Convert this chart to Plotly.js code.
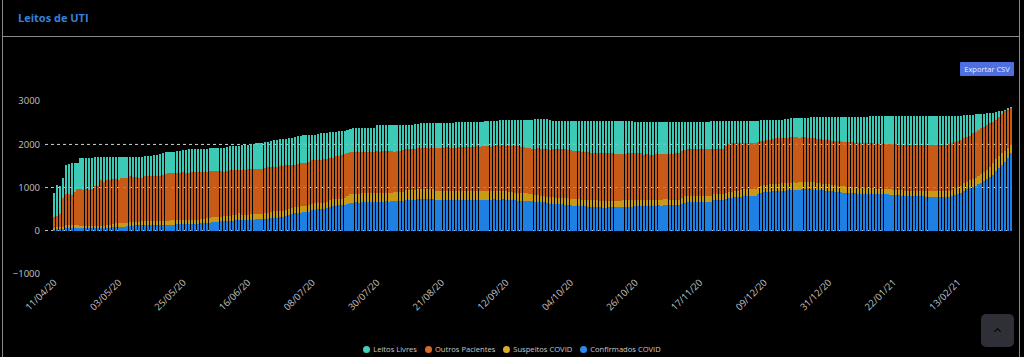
<!DOCTYPE html>
<html>
<head>
<meta charset="utf-8">
<script src="https://cdn.plot.ly/plotly-3.0.1.min.js"></script>
<style>
  html, body { margin:0; padding:0; background:#000; width:1024px; height:357px; overflow:hidden; font-family:"Open Sans", "Noto Sans", sans-serif; }
  #chart { position:absolute; left:0; top:0; width:1024px; height:357px; }
  .frame-l { position:absolute; left:2px; top:0; width:1px; height:357px; background:#8a8a8a; }
  .frame-r { position:absolute; left:1019px; top:0; width:1px; height:357px; background:#8a8a8a; }
  .frame-h { position:absolute; left:2px; top:36px; width:1018px; height:1px; background:#8a8a8a; }
  #csv { position:absolute; left:960px; top:62px; width:54px; height:14px; background:#4e6fdf; color:#e8ecff; font-size:7.5px; line-height:14px; text-align:center; border-radius:1px; }
  #up { position:absolute; left:981px; top:314px; width:33px; height:33px; background:#2f3037; border-radius:5px; }
  #up:after { content:""; position:absolute; left:14px; top:15px; width:4px; height:4px; border-left:1.5px solid #000; border-top:1.5px solid #000; transform:rotate(45deg); }
  #legend { position:absolute; left:0; width:1024px; top:343px; height:12px; text-align:center; font-size:7.6px; color:#c8c8c8; white-space:nowrap; }
  #legend span.item { display:inline-block; margin:0 4px; line-height:12px; }
  #legend span.dot { display:inline-block; width:7px; height:7px; border-radius:50%; margin-right:3px; vertical-align:-1px; }
</style>
</head>
<body>
<div id="chart"></div>
<div class="frame-l"></div>
<div class="frame-r"></div>
<div class="frame-h"></div>
<div id="csv">Exportar CSV</div>
<div id="up"></div>
<div id="legend"></div>
<script>
// ---- data (daily, starting 11/04/2020) ----
const startDate = '2020-04-11';
const seriesNames = ['Confirmados COVID', 'Suspeitos COVID', 'Outros Pacientes', 'Leitos Livres'];
const seriesColors = ['#1f80e3', '#c99a16', '#c85a18', '#3cc9b6'];
const legendOrder = ['Leitos Livres', 'Outros Pacientes', 'Suspeitos COVID', 'Confirmados COVID'];
const legendColors = ['#3fd0c0', '#d9692a', '#e0a92a', '#2a8af0'];

const confirmados = [
25,30,30,35,70,75,70,68,65,62,
62,60,63,60,58,60,62,65,64,66,
85,88,90,92,95,100,118,120,122,125,
125,128,130,130,132,128,130,133,130,135,
138,140,145,150,152,150,155,152,155,160,
170,175,185,190,192,195,200,215,225,230,
232,235,238,240,245,250,255,258,260,262,
265,268,272,280,290,300,305,310,318,330,
360,385,405,415,420,425,430,440,480,490,
495,498,500,520,560,574,580,585,590,600,
620,640,650,655,650,660,662,665,670,673,
673,675,672,678,675,680,685,688,690,692,
715,719,722,720,725,727,730,727,725,730,
710,704,700,705,708,704,702,710,715,718,
715,716,717,720,718,717,716,715,720,722,
725,718,722,730,715,712,705,700,695,690,
688,690,685,680,673,670,665,660,640,625,
620,615,612,610,605,600,590,580,575,574,
570,565,560,550,545,540,538,536,535,538,
540,542,548,550,552,550,548,555,565,574,
578,580,575,578,580,582,585,580,585,588,
590,589,592,590,620,650,660,666,668,666,
666,668,670,672,675,700,704,708,712,740,
760,765,770,780,790,800,803,805,805,808,
850,880,900,903,905,910,915,918,920,930,
935,941,945,940,950,956,960,955,958,952,
945,940,933,930,925,910,900,890,885,880,
878,875,870,865,860,858,857,855,855,850,
848,845,842,840,842,838,830,826,820,815,
810,805,800,800,798,795,795,792,790,790,
790,788,790,788,787,790,800,830,860,880,
930,960,990,1020,1045,1071,1110,1150,1186,1240,
1300,1390,1460,1530,1600,1683,1790];

const suspeitos = [
50,50,50,50,60,60,65,62,60,58,
55,56,54,55,57,55,56,55,58,57,
80,82,85,84,86,85,85,86,84,85,
100,100,98,102,100,100,99,101,100,102,
100,102,105,100,102,103,100,101,102,100,
105,108,110,112,115,130,112,110,115,118,
115,118,120,160,118,115,117,120,122,120,
122,125,128,135,145,150,150,152,150,148,
148,145,145,142,145,146,148,150,150,150,
150,152,150,150,150,152,150,150,150,160,
190,200,205,205,210,210,205,200,200,195,
195,198,200,197,200,202,205,200,198,203,
220,222,225,228,230,228,230,228,232,228,
215,214,218,212,216,214,215,208,205,210,
200,202,205,198,200,205,200,203,198,200,
195,198,200,190,200,185,185,180,182,180,
180,175,170,160,150,148,150,145,150,148,
150,152,150,155,153,152,150,150,152,155,
152,150,155,155,158,160,158,160,162,158,
150,148,145,146,148,150,152,148,145,144,
140,138,140,137,138,135,135,140,138,135,
130,132,128,130,140,145,140,138,137,140,
138,140,137,140,140,140,138,140,135,140,
140,142,145,150,152,155,153,150,152,150,
160,165,160,165,170,172,168,170,175,172,
170,168,172,175,178,176,172,178,175,180,
160,155,153,155,150,150,148,145,150,148,
145,140,140,138,135,137,138,135,135,140,
120,118,115,118,116,118,120,118,120,118,
120,122,120,125,122,123,125,123,125,125,
125,128,130,130,128,130,135,150,155,155,
170,175,180,185,185,190,195,205,229,240,
260,270,280,270,250,220,200];

const outros = [
245,264,318,680,712,707,691,773,831,836,
816,855,824,841,918,910,1045,1012,1056,1047,
1025,1030,1010,1034,1043,1045,1052,1034,1029,1015,
1005,1034,1034,1023,1030,1042,1026,1051,1086,1093,
1101,1103,1080,1085,1096,1087,1090,1101,1103,1090,
1080,1082,1075,1083,1073,1065,1073,1050,1030,1032,
1053,1042,1047,1000,1045,1045,1053,1060,1053,1048,
1043,1042,1040,1055,1041,1030,1030,1028,1032,1037,
1007,990,980,988,995,997,992,1010,999,995,
995,995,1000,990,965,957,990,1002,1020,1015,
990,981,960,965,970,951,958,953,950,953,
968,957,968,961,970,954,940,963,967,965,
945,949,948,952,957,965,945,957,958,952,
987,987,997,993,1006,994,993,1002,1008,997,
1015,1017,1006,1022,1033,1026,1039,1032,1042,1023,
1035,1058,1043,1060,1055,1058,1075,1070,1074,1075,
1062,1055,1055,1057,1077,1087,1080,1085,1090,1097,
1120,1113,1123,1125,1122,1123,1120,1115,1109,1111,
1108,1110,1095,1095,1092,1098,1109,1094,1101,1104,
1100,1092,1082,1084,1085,1082,1090,1092,1088,1082,
1072,1042,1050,1045,1040,1048,1050,1055,1057,1047,
1055,1059,1070,1080,1080,1075,1080,1081,1085,1082,
1086,1077,1085,1076,1075,1052,1053,1042,1041,1070,
1100,1120,1115,1097,1093,1072,1069,1075,1078,1082,
1050,1030,1021,1022,1025,1038,1052,1054,1050,1048,
1050,1048,1043,1042,1022,1028,1025,1022,1017,1008,
1015,1015,1018,1015,1020,1025,1027,1035,1031,1032,
1037,1040,1035,1037,1035,1032,1035,1035,1037,1030,
1047,1049,1053,1054,1050,1049,1050,1051,1050,1059,
1059,1058,1060,1050,1054,1060,1055,1057,1059,1060,
1060,1062,1060,1067,1075,1080,1092,1080,1065,1065,
1042,1044,1030,1045,1064,1069,1066,1055,1035,1000,
963,910,898,900,910,888,840];

const livres = [
545,712,635,444,673,696,734,657,604,734,
757,719,749,734,665,680,549,580,534,542,
524,514,529,504,490,484,459,474,479,489,
484,467,467,474,498,490,510,513,504,490,
481,485,521,520,515,534,535,536,530,540,
535,530,530,527,532,522,527,540,545,550,
551,563,561,570,567,571,565,566,575,588,
597,600,603,590,605,610,615,621,620,612,
625,635,635,635,635,635,635,610,590,590,
595,604,605,605,600,597,568,558,545,535,
535,535,550,545,542,551,550,560,559,564,
604,610,602,604,595,605,610,592,590,585,
568,558,560,570,567,560,575,570,570,576,
574,581,572,578,560,583,590,585,581,585,
582,580,590,580,574,577,570,578,570,585,
580,566,585,575,585,601,591,608,605,613,
630,642,655,673,675,675,691,696,706,680,
657,667,662,657,667,672,687,702,711,707,
717,722,737,747,752,749,742,757,749,747,
757,765,772,767,760,758,745,735,727,725,
735,765,760,765,767,760,755,750,745,755,
750,745,735,725,685,655,645,640,635,637,
635,640,633,637,638,638,635,640,642,580,
530,505,505,513,505,513,515,510,510,505,
488,475,471,465,460,443,428,423,425,430,
435,444,445,453,465,456,459,463,470,485,
510,522,528,532,537,547,560,565,569,575,
575,582,594,599,609,612,610,615,615,625,
630,635,637,635,640,645,652,660,665,663,
666,670,675,680,681,678,681,686,686,687,
687,684,682,677,672,662,635,602,582,562,
536,501,482,435,396,365,329,300,265,240,
206,175,122,75,40,39,23];

const yTicks = [-1000, 0, 1000, 2000, 3000];

// ---- dates: one bar per day ----
const dates = [];
const d0 = new Date(startDate + 'T00:00:00Z');
for (let i = 0; i < confirmados.length; i++) {
  const d = new Date(d0.getTime() + i * 86400000);
  dates.push(d.toISOString().slice(0, 10));
}

const values = [confirmados, suspeitos, outros, livres];
const traces = values.map((v, k) => ({
  type: 'bar', x: dates, y: v, name: seriesNames[k],
  marker: { color: seriesColors[k], line: { width: 0 } },
  showlegend: false, hoverinfo: 'x+y+name'
}));

const tickFont = { family: 'Open Sans, Noto Sans, sans-serif', size: 9.5, color: '#c2c2c2' };

const layout = {
  width: 1024, height: 357,
  paper_bgcolor: '#000', plot_bgcolor: '#000',
  margin: { l: 45, r: 12, t: 101, b: 82.5 },
  barmode: 'stack', bargap: 0.28,
  title: { text: '<b>Leitos de UTI</b>', xref: 'container', x: 18/1024, xanchor: 'left',
           yref: 'container', y: 1 - 18/357, yanchor: 'middle',
           font: { family: 'Open Sans, Noto Sans, sans-serif', size: 11, color: '#3580dd' } },
  xaxis: {
    type: 'date', range: ['2020-04-07 22:00', '2021-03-03 10:00'],
    tick0: startDate, dtick: 22 * 86400000, tickformat: '%d/%m/%y',
    tickangle: -45, showgrid: false, zeroline: false, showline: false, ticks: '',
    tickfont: tickFont, fixedrange: true
  },
  yaxis: {
    range: [-1000, 3000], tickvals: yTicks, ticks: '',
    showgrid: true, gridcolor: '#bdbdbd', griddash: 'dot', gridwidth: 1,
    zeroline: false, showline: false, tickfont: tickFont, ticklabelstandoff: 4, fixedrange: true
  },
  shapes: [1000, 2000].map(v => ({
    type: 'line', xref: 'paper', x0: 0, x1: 1, yref: 'y', y0: v, y1: v, layer: 'above',
    line: { color: 'rgba(220,220,220,0.28)', width: 1, dash: 'dot' }
  })),
  showlegend: false
};

Plotly.newPlot('chart', traces, layout, { displayModeBar: false, staticPlot: true });

// legend (order as in the original)
const lg = document.getElementById('legend');
legendOrder.forEach((n, k) => {
  const s = document.createElement('span'); s.className = 'item';
  const dot = document.createElement('span'); dot.className = 'dot'; dot.style.background = legendColors[k];
  s.appendChild(dot); s.appendChild(document.createTextNode(n));
  lg.appendChild(s);
});
</script>
</body>
</html>
